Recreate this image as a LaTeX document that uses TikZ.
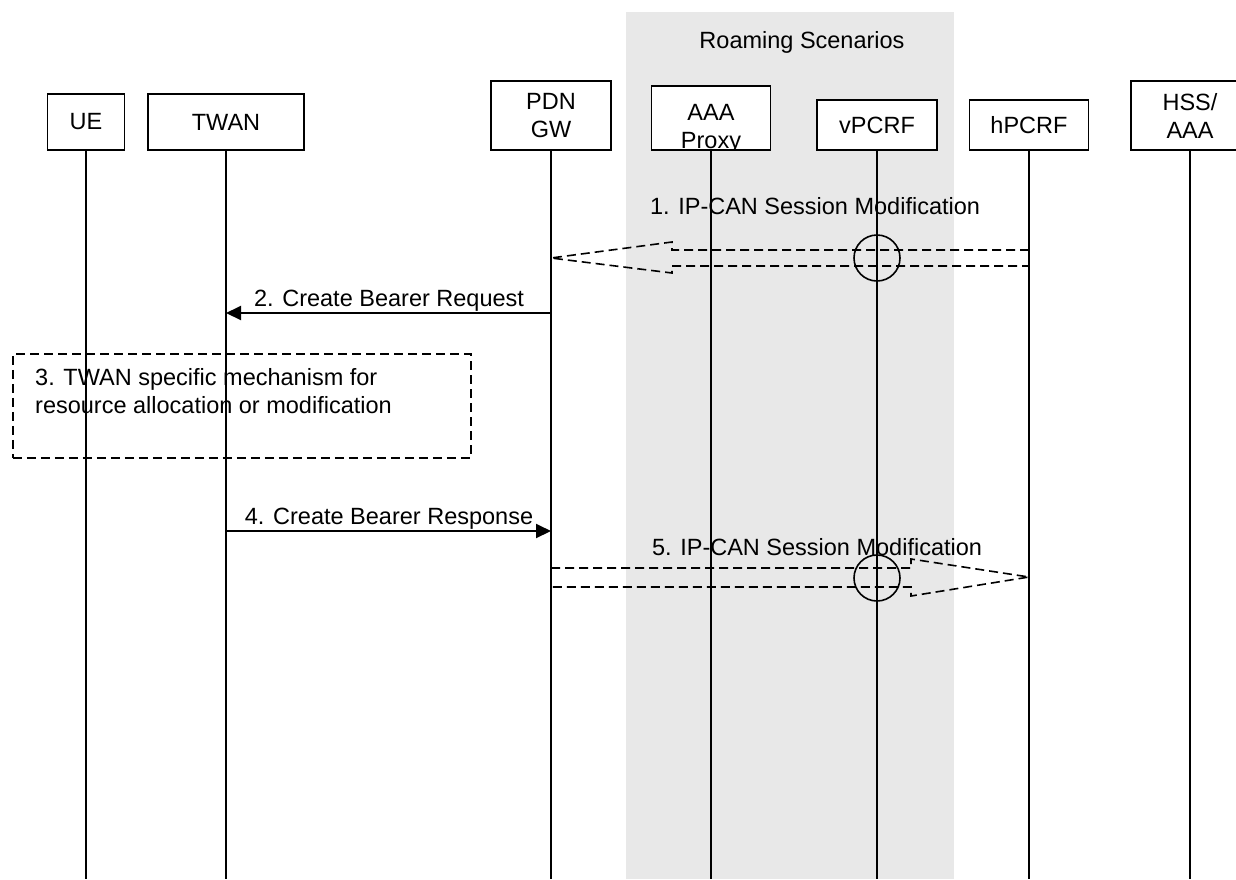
\documentclass[tikz,border=0pt]{standalone}
\usepackage{fontspec}
\setmainfont{Liberation Sans}
\usetikzlibrary{arrows.meta,calc}
\definecolor{roam}{RGB}{232,232,232}
\tikzset{
  lbl/.style={font=\fontsize{23.5}{28}\selectfont, inner sep=0pt},
  ent/.style={draw, line width=1.6pt, fill=white, inner sep=0pt,
    font=\fontsize{23.5}{28}\selectfont, align=center},
  life/.style={line width=1.6pt},
  msg/.style={line width=2pt, -{Triangle[length=15pt,width=14pt]}},
  hollow/.style={line width=1.6pt, dash pattern=on 9pt off 5pt},
  stepbox/.style={draw, line width=1.6pt, dash pattern=on 9pt off 5pt, inner sep=0pt},
  ring/.style={draw, circle, line width=1.6pt, minimum size=46pt, inner sep=0pt}
}
\begin{document}
\begin{tikzpicture}[x=1pt,y=-1pt]
\useasboundingbox (0,0) rectangle (1236,879);
\clip (0,0) rectangle (1236,879);
\fill[roam] (626,12) rectangle (954,879);
\node[lbl, anchor=base] (roamtitle) at (802,48.5) {Roaming Scenarios};

% entities
\node[ent, minimum width=77pt, minimum height=56pt] (ue) at (86,122) {UE};
\node[ent, minimum width=156pt, minimum height=56pt] (twan) at (226,122) {TWAN};
\node[ent, minimum width=120pt, minimum height=69pt] (pdn) at (551,115.5) {PDN\\GW};
\node[ent, minimum width=119pt, minimum height=64pt] (aaa) at (711,118) {};
\begin{scope}
  \clip (aaa.south west) rectangle (aaa.north east);
  \node[lbl, anchor=base, align=center] (aaatext) at (711,120) {AAA};
  \node[lbl, anchor=base, align=center] (proxytext) at (711,148) {Proxy};
\end{scope}
\node[ent, minimum width=120pt, minimum height=50pt] (vpcrf) at (877,125) {vPCRF};
\node[ent, minimum width=119pt, minimum height=50pt] (hpcrf) at (1029,125) {hPCRF};
\node[ent, minimum width=118pt, minimum height=69pt] (hss) at (1190,115.5) {HSS/\\AAA};

% lifeline ends
\coordinate (ueE) at (ue.south |- 0,879);
\coordinate (twanE) at (twan.south |- 0,879);
\coordinate (pdnE) at (pdn.south |- 0,879);
\coordinate (aaaE) at (aaa.south |- 0,879);
\coordinate (vpcrfE) at (vpcrf.south |- 0,879);
\coordinate (hpcrfE) at (hpcrf.south |- 0,879);
\coordinate (hssE) at (hss.south |- 0,879);

% step 3 box (under lifelines)
\node[stepbox, minimum width=458pt, minimum height=104pt, anchor=north west] (s3box) at (12,353) {};
\node[lbl, anchor=north west, align=left] (s3) at (35,368) {3. TWAN specific mechanism for\\resource allocation or modification};

\draw[life] (ue.south) -- (ueE);
\draw[life] (twan.south) -- (twanE);
\draw[life] (pdn.south) -- (pdnE);
\draw[life] (aaa.south) -- (aaaE);
\draw[life] (vpcrf.south) -- (vpcrfE);
\draw[life] (hpcrf.south) -- (hpcrfE);
\draw[life] (hss.south) -- (hssE);

% 1. IP-CAN Session Modification (hollow arrow to the left)
\node[lbl, anchor=base] (m1) at (815,214) {1. IP-CAN Session Modification};
\draw[hollow] (hpcrf |- 0,250) -- (672,250) -- (672,242) -- (pdn |- 0,258)
  -- (672,273) -- (672,266) -- (hpcrf |- 0,266) -- cycle;
\node[ring] (c1) at (vpcrf |- 0,258) {};

% 2. Create Bearer Request
\draw[msg] (pdn |- 0,313) -- (twan |- 0,313);
\node[lbl, anchor=base] (m2) at (389,306.5) {2. Create Bearer Request};

% 4. Create Bearer Response
\draw[msg] (twan |- 0,531) -- (pdn |- 0,531);
\node[lbl, anchor=base] (m4) at (389,524.5) {4. Create Bearer Response};

% 5. IP-CAN Session Modification (hollow arrow to the right)
\node[lbl, anchor=base] (m5) at (817,555.5) {5. IP-CAN Session Modification};
\draw[hollow] (pdn |- 0,568) -- (911,568) -- (911,559) -- (hpcrf |- 0,577)
  -- (911,596) -- (911,587) -- (pdn |- 0,587) -- cycle;
\node[ring] (c5) at (vpcrf |- 0,578) {};
\end{tikzpicture}
\end{document}
